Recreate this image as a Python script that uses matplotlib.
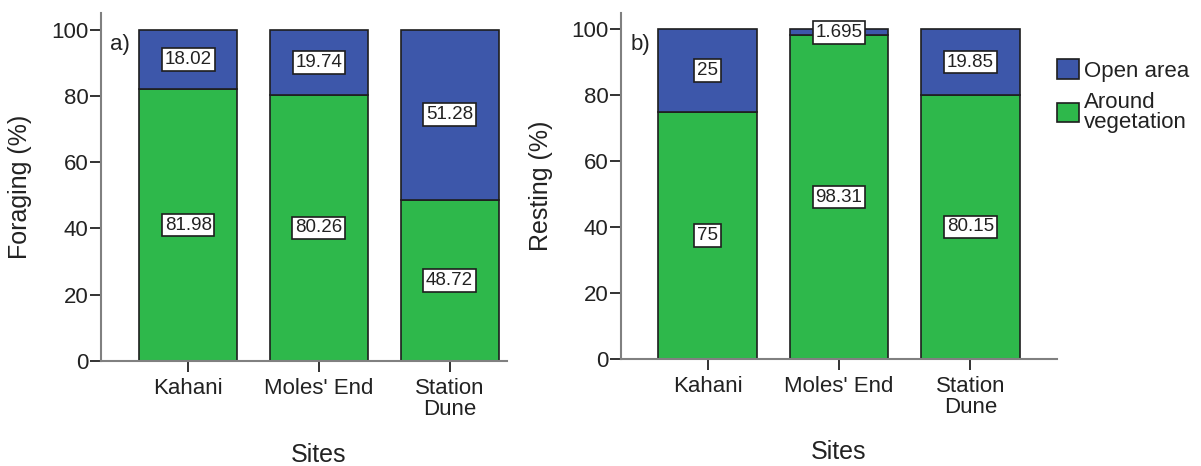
import matplotlib
matplotlib.use("Agg")
import matplotlib.pyplot as plt
from matplotlib.patches import Patch

plt.rcParams['font.family'] = ['Liberation Sans', 'DejaVu Sans']

sites = ["Kahani", "Moles' End", "Station\nDune"]
forage_veg = [81.98, 80.26, 48.72]
forage_open = [18.02, 19.74, 51.28]
rest_veg = [75, 98.31, 80.15]
rest_open = [25, 1.695, 19.85]
forage_veg_lbl = ["81.98", "80.26", "48.72"]
forage_open_lbl = ["18.02", "19.74", "51.28"]
rest_veg_lbl = ["75", "98.31", "80.15"]
rest_open_lbl = ["25", "1.695", "19.85"]

BLUE = "#3d57aa"
GREEN = "#2eb84b"
EDGE = "#1e1e1e"
TXT = "#222222"
SPINE = "#808080"

fig = plt.figure(figsize=(12.01, 4.66), dpi=100)
axL = fig.add_axes([101/1201, 105/466, 406/1201, 348/466])
axR = fig.add_axes([621/1201, 107/466, 436/1201, 346/466])


def panel(ax, veg, opn, veg_lbl, opn_lbl, ylabel, tag, xlim, ylab_x, xlab_x):
    x = list(range(len(sites)))
    ax.bar(x, veg, width=0.75, color=GREEN, edgecolor=EDGE, linewidth=1.2, zorder=2)
    ax.bar(x, opn, bottom=veg, width=0.75, color=BLUE, edgecolor=EDGE, linewidth=1.2, zorder=2)
    box = dict(boxstyle="square,pad=0.15", facecolor="white", edgecolor=EDGE, linewidth=1.2)
    for xi, v, o, vl, ol in zip(x, veg, opn, veg_lbl, opn_lbl):
        ax.text(xi, v / 2, vl, ha="center", va="center", fontsize=13.5, color=TXT, bbox=box, zorder=4)
        ax.text(xi, v + o / 2, ol, ha="center", va="center", fontsize=13.5, color=TXT, bbox=box, zorder=4)
    ax.set_xlim(*xlim)
    ax.set_ylim(0, 105)
    ax.set_yticks([0, 20, 40, 60, 80, 100])
    ax.set_xticks(x)
    ax.set_xticklabels(sites, linespacing=1.0)
    for s in ["top", "right"]:
        ax.spines[s].set_visible(False)
    for s in ["left", "bottom"]:
        ax.spines[s].set_color(SPINE)
        ax.spines[s].set_linewidth(1.5)
    ax.tick_params(axis="both", labelsize=16, colors=TXT, length=8, width=1.3)
    ax.tick_params(axis="x", pad=4)
    ax.tick_params(axis="y", pad=1)
    ax.set_ylabel(ylabel, fontsize=18, color=TXT)
    ax.yaxis.set_label_coords(ylab_x, 0.5)
    ax.set_xlabel("Sites", fontsize=18, color=TXT)
    ax.xaxis.set_label_coords(xlab_x, -0.235)
    ax.text(xlim[0] + 0.07, 95.5, tag, ha="left", va="center", fontsize=16, color=TXT)


panel(axL, forage_veg, forage_open, forage_veg_lbl, forage_open_lbl, "Foraging (%)", "a)",
      (-0.667, 2.44), -0.17, 0.5365)
panel(axR, rest_veg, rest_open, rest_veg_lbl, rest_open_lbl, "Resting (%)", "b)",
      (-0.66, 2.66), -0.156, 0.5)

handles = [Patch(facecolor=BLUE, edgecolor=EDGE, linewidth=1.2),
           Patch(facecolor=GREEN, edgecolor=EDGE, linewidth=1.2)]
leg = fig.legend(handles, ["Open area", "Around\nvegetation"], loc="upper left",
                 bbox_to_anchor=(1053/1201, 1 - 55/466), frameon=False, fontsize=16,
                 handlelength=0.95, handleheight=0.95, handletextpad=0.25,
                 labelspacing=0.45, borderaxespad=0, borderpad=0.2)
for t in leg.get_texts():
    t.set_color(TXT)
    t.set_linespacing(0.95)

fig.savefig("out.png", dpi=100)
